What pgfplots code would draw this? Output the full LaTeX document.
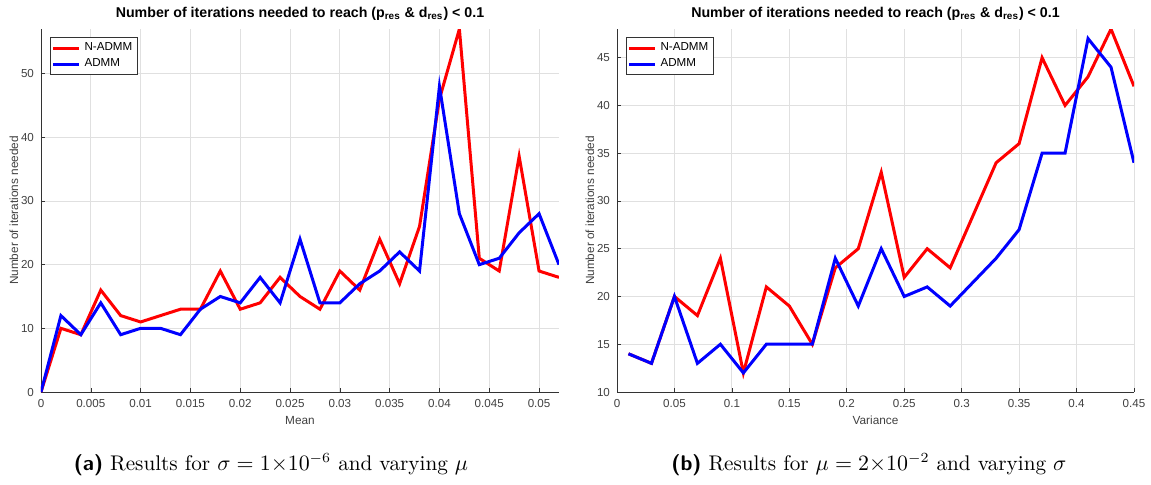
\documentclass[border=0pt]{standalone}
\usepackage{fontspec}
\usepackage{pgfplots}
\usepackage{pgfplotstable}
\pgfplotsset{compat=1.18}
\newfontfamily\arial{Liberation Sans}

\pgfplotstableread{
x y
0 0
0.002 10
0.004 9
0.006 16
0.008 12
0.010 11
0.012 12
0.014 13
0.016 13
0.018 19
0.020 13
0.022 14
0.024 18
0.026 15
0.028 13
0.030 19
0.032 16
0.034 24
0.036 17
0.038 26
0.040 46
0.042 57
0.044 21
0.046 19
0.048 37
0.050 19
0.052 18
}\leftred
\pgfplotstableread{
x y
0 0
0.002 12
0.004 9
0.006 14
0.008 9
0.010 10
0.012 10
0.014 9
0.016 13
0.018 15
0.020 14
0.022 18
0.024 14
0.026 24
0.028 14
0.030 14
0.032 17
0.034 19
0.036 22
0.038 19
0.040 48
0.042 28
0.044 20
0.046 21
0.048 25
0.050 28
0.052 20
}\leftblue
\pgfplotstableread{
x y
0.01 14
0.03 13
0.05 20
0.07 18
0.09 24
0.11 12
0.13 21
0.15 19
0.17 15
0.19 23
0.21 25
0.23 33
0.25 22
0.27 25
0.29 23
0.31 28.5
0.33 34
0.35 36
0.37 45
0.39 40
0.41 43
0.43 48
0.45 42
}\rightred
\pgfplotstableread{
x y
0.01 14
0.03 13
0.05 20
0.07 13
0.09 15
0.11 12
0.13 15
0.15 15
0.17 15
0.19 24
0.21 19
0.23 25
0.25 20
0.27 21
0.29 19
0.31 21.5
0.33 24
0.35 27
0.37 35
0.39 35
0.41 47
0.43 44
0.45 34
}\rightblue

\pgfplotsset{
  matlab/.style={
    scale only axis,
    width=259pt, height=181.5pt,
    axis x line*=bottom, axis y line*=left,
    axis line style={black!80, line width=0.4pt},
    tick align=inside,
    major tick length=2pt,
    tick style={black!80, line width=0.3pt},
    grid=major,
    major grid style={black!12, line width=0.4pt},
    /pgf/number format/assume math mode=true,
    ticklabel style={font=\arial\fontsize{5.8}{6}\selectfont, text=black!75},
    scaled x ticks=false,
    xticklabel style={/pgf/number format/.cd, fixed, precision=3},
    label style={font=\arial\fontsize{5.9}{6}\selectfont, text=black!75},
    xlabel style={at={(axis description cs:0.5,0)}, anchor=center, yshift=-14pt},
    ylabel style={at={(axis description cs:0,0.5)}, anchor=center, yshift=13.5pt},
    every axis title shift=0pt,
    title style={at={(axis description cs:0.5,1)}, anchor=base, yshift=6pt, font=\arial\bfseries\fontsize{7.1}{8}\selectfont},
    title={Number of iterations needed to reach (p\textsubscript{res} \& d\textsubscript{res}) < 0.1},
    ylabel={Number of iterations needed},
    legend style={at={(axis description cs:0,1)}, anchor=north west, xshift=4.5pt, yshift=-4pt,
      draw=black!80, line width=0.4pt, font=\arial\fontsize{5.8}{6}\selectfont, inner sep=0.6pt,
      row sep=-1.5pt, cells={anchor=west, inner xsep=0.6pt}},
    legend image code/.code={\draw[#1] (0pt,0pt) -- (13pt,0pt);},
    every axis plot/.append style={line width=1.5pt, no markers},
    legend cell align=left,
  }
}

\begin{document}
\begin{tikzpicture}
\path[use as bounding box] (0pt,0pt) rectangle (575.5pt,-242pt);
\begin{axis}[matlab,
  at={(20.5pt,-196pt)}, anchor=south west,
  xmin=0, xmax=0.052, ymin=0, ymax=57,
  xtick={0,0.005,0.01,0.015,0.02,0.025,0.03,0.035,0.04,0.045,0.05},
  ytick={0,10,20,30,40,50},
  xlabel={Mean}]
\addplot[red] table[x=x,y=y] {\leftred};
\addplot[blue] table[x=x,y=y] {\leftblue};
\legend{N-ADMM,ADMM}
\end{axis}
\begin{axis}[matlab,
  at={(308.5pt,-196pt)}, anchor=south west, width=258.5pt,
  xmin=0, xmax=0.45, ymin=10, ymax=48,
  xtick={0,0.05,0.1,0.15,0.2,0.25,0.3,0.35,0.4,0.45},
  ytick={10,15,20,25,30,35,40,45},
  xlabel={Variance}]
\addplot[red] table[x=x,y=y] {\rightred};
\addplot[blue] table[x=x,y=y] {\rightblue};
\legend{N-ADMM,ADMM}
\end{axis}
\node[anchor=base, font=\fontsize{10.6}{12}\selectfont] at (135.5pt,-235pt)
  {{\sffamily\bfseries (a)} Results for $\sigma = 1{\times}10^{-6}$ and varying $\mu$};
\node[anchor=base, font=\fontsize{10.6}{12}\selectfont] at (434.5pt,-235pt)
  {{\sffamily\bfseries (b)} Results for $\mu = 2{\times}10^{-2}$ and varying $\sigma$};
\end{tikzpicture}
\end{document}
